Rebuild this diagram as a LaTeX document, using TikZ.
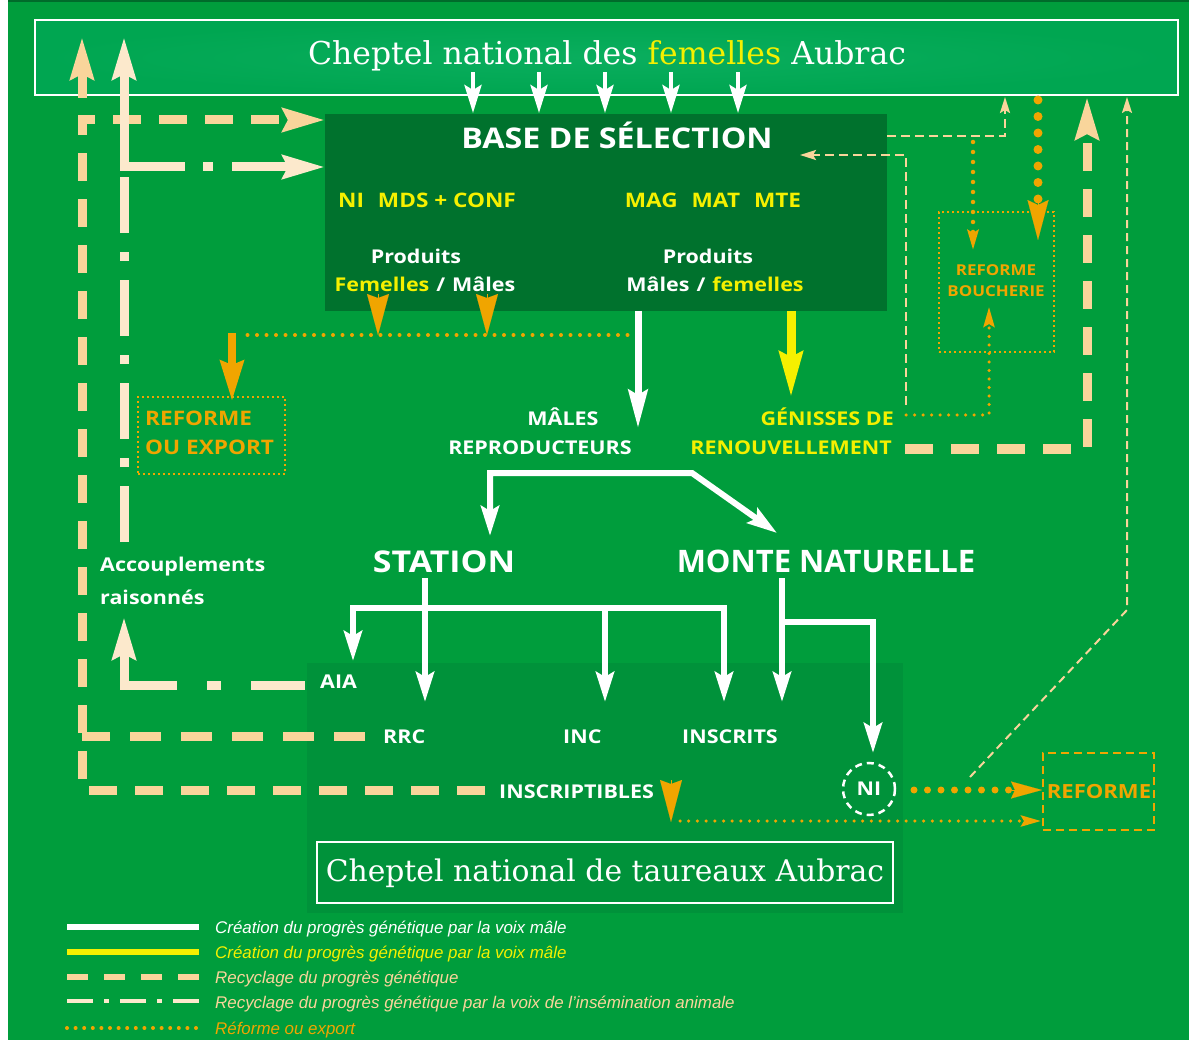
\documentclass[tikz,border=0pt]{standalone}
\usepackage{fontspec}
\usetikzlibrary{arrows.meta,calc}
\setmainfont{DejaVu Serif}
\newfontfamily\osans{Open Sans}[FakeStretch=1.13]
\newfontfamily\osansn{Open Sans}
\newfontfamily\lsans{Liberation Sans}
\definecolor{bg}{HTML}{009D3C}
\definecolor{topg}{HTML}{00A651}
\definecolor{topc}{HTML}{0AAE5E}
\definecolor{baseg}{HTML}{00722D}
\definecolor{lowg}{HTML}{00923A}
\definecolor{dkg}{HTML}{006B2A}
\definecolor{yel}{HTML}{F5F000}
\definecolor{tan}{HTML}{F9D59B}
\definecolor{cream}{HTML}{FCE9CC}
\definecolor{org}{HTML}{F0A500}
\tikzset{
  lbl/.style={font=\osans\bfseries\fontsize{19}{22}\selectfont, text=white, inner sep=0pt},
  big/.style={font=\osans\bfseries\fontsize{30}{34}\selectfont, text=white, inner sep=0pt},
  ttl/.style={font=\fontsize{31.5}{38}\selectfont, text=white, inner sep=0pt},
  leg/.style={font=\lsans\itshape\fontsize{16.9}{19}\selectfont, inner sep=0pt, anchor=base west},
  wline/.style={draw=white, line width=6pt},
  tanthick/.style={draw=tan, line width=9pt, dash pattern=on 28pt off 18pt},
  tanhead/.style={-{Stealth[length=42pt,width=23pt,inset=5pt]}},
  tanthin/.style={draw=tan, line width=2.2pt, dash pattern=on 9pt off 5pt},
  thinhead/.style={-{Stealth[length=16pt,width=10pt,inset=3pt]}},
  creamdd/.style={draw=cream, line width=9pt, dash pattern=on 56pt off 19pt on 9pt off 19pt},
  orgdot/.style={draw=org, line width=4pt, line cap=round, dash pattern=on 0pt off 9.5pt},
  orgbig/.style={draw=org, line width=9pt, line cap=round, dash pattern=on 0pt off 16.5pt},
  orgsmallhead/.style={-{Stealth[length=20pt,width=11pt,inset=3pt]}},
}
\begin{document}
\begin{tikzpicture}[x=1pt,y=-1pt]
\useasboundingbox (0,0) rectangle (1189,1040);
\fill[white] (0,0) rectangle (1189,1040);
\fill[bg] (8,0) rectangle (1189,1040);
\fill[dkg] (8,0) rectangle (1189,2);

% ---------- boxes ----------
\node[fill=lowg, minimum width=596pt, minimum height=250pt, inner sep=0pt] (lower) at (605,788) {};
\node[draw=white, line width=2pt, inner color=topc, outer color=topg, minimum width=1143pt, minimum height=75pt, inner sep=0pt] (top) at (606.5,57.5) {};
\node[fill=baseg, minimum width=562pt, minimum height=197pt, inner sep=0pt] (base) at (606,212.5) {};
\node[draw=white, line width=2.5pt, minimum width=576pt, minimum height=61pt, inner sep=0pt] (bottom) at (605,872.5) {};
\node[draw=org, line width=2pt, dash pattern=on 2pt off 3pt, minimum width=147pt, minimum height=77pt, inner sep=0pt] (refexp) at (211.5,435.5) {};
\node[draw=org, line width=2pt, dash pattern=on 2pt off 3pt, minimum width=115pt, minimum height=140pt, inner sep=0pt] (refbouch) at (996.5,282) {};
\node[draw=org, line width=2.5pt, dash pattern=on 8pt off 5pt, minimum width=111pt, minimum height=77pt, inner sep=0pt] (refright) at (1098.5,791.5) {};

% ---------- texts ----------
\node[ttl, anchor=base] (toptitle) at (607,65) {Cheptel national des \textcolor{yel}{femelles} Aubrac};
\node[ttl, anchor=base, font=\fontsize{29.8}{36}\selectfont] (bottitle) at (605,881) {Cheptel national de taureaux Aubrac};
\node[big, anchor=base, font=\osans\bfseries\fontsize{28.5}{32}\selectfont] (basettl) at (617,149) {BASE DE SÉLECTION};
\node[lbl, anchor=base, text=yel, font=\osans\bfseries\fontsize{20}{22}\selectfont] (crit1) at (427,208) {NI\hspace{14pt}MDS + CONF};
\node[lbl, anchor=base, text=yel, font=\osans\bfseries\fontsize{20}{22}\selectfont] (crit2) at (713,208) {MAG\hspace{14pt}MAT\hspace{14pt}MTE};
\node[lbl, anchor=base] (prod1) at (416,264) {Produits};
\node[lbl, anchor=base] (prod1b) at (425,292) {\textcolor{yel}{Femelles}\hspace{7pt}/\hspace{7pt}Mâles};
\node[lbl, anchor=base] (prod2) at (708,264) {Produits};
\node[lbl, anchor=base] (prod2b) at (715,292) {Mâles\hspace{7pt}/\hspace{7pt}\textcolor{yel}{femelles}};
\node[lbl, anchor=base west, text=org, font=\osans\bfseries\fontsize{20}{22}\selectfont] (re1) at (145,426) {REFORME};
\node[lbl, anchor=base west, text=org, font=\osans\bfseries\fontsize{20}{22}\selectfont] (re2) at (145,454) {OU EXPORT};
\node[lbl, anchor=base] (mal1) at (563,425) {MÂLES};
\node[lbl, anchor=base] (mal2) at (540,454) {REPRODUCTEURS};
\node[lbl, anchor=base east, text=yel] (gen1) at (894,425) {GÉNISSES DE};
\node[lbl, anchor=base east, text=yel] (gen2) at (892,454) {RENOUVELLEMENT};
\node[lbl, anchor=base, text=org, font=\osans\bfseries\fontsize{15}{17}\selectfont] (rb1) at (996,276) {REFORME};
\node[lbl, anchor=base, text=org, font=\osans\bfseries\fontsize{15}{17}\selectfont] (rb2) at (996,297) {BOUCHERIE};
\node[big, anchor=base] (station) at (444,572) {STATION};
\node[big, anchor=base, font=\osansn\bfseries\fontsize{31}{34}\selectfont] (monte) at (826,572) {MONTE NATURELLE};
\node[lbl, anchor=base west] (acc1) at (100,571) {Accouplements};
\node[lbl, anchor=base west] (acc2) at (100,604) {raisonnés};
\node[lbl, anchor=base west] (aia) at (320,688) {AIA};
\node[lbl, anchor=base west] (rrc) at (383,743) {RRC};
\node[lbl, anchor=base west] (inc) at (563,743) {INC};
\node[lbl, anchor=base west] (inscrits) at (682,743) {INSCRITS};
\node[lbl, anchor=base west] (inscriptibles) at (499,798) {INSCRIPTIBLES};
\node[lbl, anchor=base, text=org, font=\osans\bfseries\fontsize{19.5}{22}\selectfont] (rfr) at (1099,798) {REFORME};
\node[circle, draw=white, line width=2.5pt, dash pattern=on 7pt off 5pt, minimum size=52pt, inner sep=0pt, lbl] (ni) at (869,789) {NI};

% ---------- top arrows (femelles -> base) ----------
\foreach \i/\x in {1/473,2/539,3/605,4/671,5/738}{
  \coordinate (fa\i) at (\x,72);
  \coordinate (fb\i) at (\x,113);
  \draw[white, line width=4pt, -{Stealth[length=28pt,width=17pt,inset=5pt]}] (fa\i) -- (fb\i);
}

% ---------- orange from base to reforme/export ----------
\coordinate (o1a) at (378,294); \coordinate (o1b) at (378,335);
\coordinate (o2a) at (487,294); \coordinate (o2b) at (487,335);
\draw[org, line width=0.1pt, -{Stealth[length=41pt,width=22pt,inset=4pt]}] (o1a) -- (o1b);
\draw[org, line width=0.1pt, -{Stealth[length=41pt,width=22pt,inset=4pt]}] (o2a) -- (o2b);
\coordinate (od1) at (637,335); \coordinate (od0) at (242,335);
\draw[orgdot] (od1) -- (od0);
\coordinate (ob0) at (232,333); \coordinate (ob1) at (232,401);
\draw[org, line width=8pt, -{Stealth[length=40pt,width=23pt,inset=4pt]}] (ob0) -- (ob1);

% ---------- white: base -> males reproducteurs ----------
\coordinate (m0) at (638,311); \coordinate (m1) at (638,428);
\draw[white, line width=7pt, -{Stealth[length=38pt,width=19pt,inset=5pt]}] (m0) -- (m1);
% yellow: base -> genisses
\coordinate (y0) at (791,311); \coordinate (y1) at (791,397);
\draw[yel, line width=9pt, -{Stealth[length=45pt,width=23pt,inset=5pt]}] (y0) -- (y1);

% ---------- tan thick right: genisses -> femelles ----------
\coordinate (r0) at (905,449); \coordinate (r1) at (1087,449); \coordinate (r2) at (1087,97);
\draw[tanthick, tanhead] (r0) -- (r1) -- (r2);

% ---------- thin tan: genisses -> base ----------
\coordinate (g0) at (906,405); \coordinate (g1) at (906,155); \coordinate (g2) at (800,155);
\draw[tanthin, thinhead] (g0) -- (g1) -- (g2);
% thin tan: base -> femelles
\coordinate (bf0) at (887,136); \coordinate (bf1) at (1005,136); \coordinate (bf2) at (1005,97);
\draw[tanthin, thinhead] (bf0) -- (bf1) -- (bf2);
% orange dotted: -> reforme boucherie
\coordinate (rb0) at (973,142); \coordinate (rb1) at (973,250);
\draw[orgdot, line width=4.5pt, dash pattern=on 0pt off 10pt, orgsmallhead] (rb0) -- (rb1);
\coordinate (bd0) at (1038,100); \coordinate (bd1) at (1038,200); \coordinate (bd2) at (1038,240);
\draw[orgbig] (bd0) -- (bd1);
\draw[org, line width=0.1pt, -{Stealth[length=40pt,width=21pt,inset=5pt]}] (bd1) -- (bd2);
\coordinate (gr0) at (906,415); \coordinate (gr1) at (989,415); \coordinate (gr2) at (989,307);
\draw[orgdot, line width=3.5pt, dash pattern=on 0pt off 8.5pt, orgsmallhead] (gr0) -- (gr1) -- (gr2);

% ---------- thin tan: NI -> femelles ----------
\coordinate (n0) at (970,777); \coordinate (n1) at (1127,610); \coordinate (n2) at (1127,97);
\draw[tanthin, line width=2pt, dash pattern=on 8pt off 5pt, thinhead] (n0) -- (n1) -- (n2);

% ---------- left tan thick ----------
\coordinate (l0) at (485,790); \coordinate (l1) at (82,790); \coordinate (l2) at (82,120); \coordinate (l3) at (325,120);
\draw[tanthick, tanhead, line join=miter] (l0) -- (l1) -- (l2) -- (l3);
\coordinate (k0) at (365,736); \coordinate (k1) at (82,736);
\draw[tanthick, dash pattern=on 31pt off 20pt] (k0) -- (k1);
\coordinate (u0) at (82,98); \coordinate (u1) at (82,37);
\draw[tan, line width=9pt, tanhead] (u0) -- (u1);

% ---------- left cream dash-dot ----------
\coordinate (c0) at (124,542); \coordinate (c1) at (124,171);
\draw[creamdd] (c0) -- (c1);
\coordinate (c2) at (124,171); \coordinate (c3) at (124,37);
\draw[cream, line width=9pt, tanhead] (c2) -- (c3);
\coordinate (h0) at (120,167); \coordinate (h1) at (325,167);
\draw[creamdd, dash pattern=on 65pt off 18pt on 10pt off 19pt, tanhead] (h0) -- (h1);
\coordinate (a0) at (305,685); \coordinate (a1) at (124,685); \coordinate (a2) at (124,617);
\draw[cream, line width=9pt, dash pattern=on 54pt off 30pt on 14pt off 30pt on 300pt, tanhead, line join=miter] (a0) -- (a1) -- (a2);

% ---------- white lower tree ----------
\coordinate (s0) at (490,536); \coordinate (s1) at (490,473); \coordinate (s2) at (692,473); \coordinate (s3) at (777,533);
\draw[wline, {Stealth[length=30pt,width=18pt,inset=5pt]}-{Stealth[length=30pt,width=18pt,inset=5pt]}, line join=miter] (s0) -- (s1) -- (s2) -- (s3);
\coordinate (st0) at (425,578); \coordinate (st1) at (425,702);
\draw[wline, -{Stealth[length=30pt,width=18pt,inset=5pt]}] (st0) -- (st1);
\coordinate (t0) at (353,661); \coordinate (t1) at (353,608); \coordinate (t2) at (724,608); \coordinate (t3) at (724,702);
\draw[wline, {Stealth[length=30pt,width=18pt,inset=5pt]}-{Stealth[length=30pt,width=18pt,inset=5pt]}, line join=miter] (t0) -- (t1) -- (t2) -- (t3);
\coordinate (i0) at (605,608); \coordinate (i1) at (605,702);
\draw[wline, -{Stealth[length=30pt,width=18pt,inset=5pt]}] (i0) -- (i1);
\coordinate (mo0) at (782,578); \coordinate (mo1) at (782,702);
\draw[wline, -{Stealth[length=30pt,width=18pt,inset=5pt]}] (mo0) -- (mo1);
\coordinate (nb0) at (782,622); \coordinate (nb1) at (873,622); \coordinate (nb2) at (873,753);
\draw[wline, -{Stealth[length=30pt,width=18pt,inset=5pt]}, line join=miter] (nb0) -- (nb1) -- (nb2);

% ---------- orange bottom ----------
\coordinate (nr0) at (914,790); \coordinate (nr1) at (1012,790); \coordinate (nr2) at (1042,790);
\draw[orgbig, line width=7pt, dash pattern=on 0pt off 13.5pt] (nr0) -- (nr1);
\draw[org, line width=0.1pt, -{Stealth[length=31pt,width=17pt,inset=4pt]}] (nr1) -- (nr2);
\coordinate (ip0) at (671,780); \coordinate (ip1) at (671,822);
\draw[org, line width=0.1pt, -{Stealth[length=42pt,width=22pt,inset=4pt]}] (ip0) -- (ip1);
\coordinate (iq0) at (680,821); \coordinate (iq1) at (1041,821);
\draw[orgdot, line width=3.5pt, dash pattern=on 0pt off 8.7pt, orgsmallhead] (iq0) -- (iq1);

% ---------- legend ----------
\coordinate (lg1a) at (67,927); \coordinate (lg1b) at (199,927);
\draw[white, line width=6pt] (lg1a) -- (lg1b);
\coordinate (lg2a) at (67,952); \coordinate (lg2b) at (199,952);
\draw[yel, line width=6pt] (lg2a) -- (lg2b);
\coordinate (lg3a) at (67,977); \coordinate (lg3b) at (199,977);
\draw[tan, line width=6pt, dash pattern=on 21pt off 16pt] (lg3a) -- (lg3b);
\coordinate (lg4a) at (67,1001); \coordinate (lg4b) at (199,1001);
\draw[cream, line width=4pt, dash pattern=on 26pt off 11pt on 5pt off 11pt] (lg4a) -- (lg4b);
\coordinate (lg5a) at (67,1028); \coordinate (lg5b) at (199,1028);
\draw[org, line width=4pt, line cap=round, dash pattern=on 0pt off 8.6pt] (lg5a) -- (lg5b);
\node[leg, text=white] (lt1) at (215,933) {Création du progrès génétique par la voix mâle};
\node[leg, text=yel] (lt2) at (215,958) {Création du progrès génétique par la voix mâle};
\node[leg, text=tan] (lt3) at (215,983) {Recyclage du progrès génétique};
\node[leg, text=tan] (lt4) at (215,1008) {Recyclage du progrès génétique par la voix de l’insémination animale};
\node[leg, text=org] (lt5) at (215,1034) {Réforme ou export};
\end{tikzpicture}
\end{document}
